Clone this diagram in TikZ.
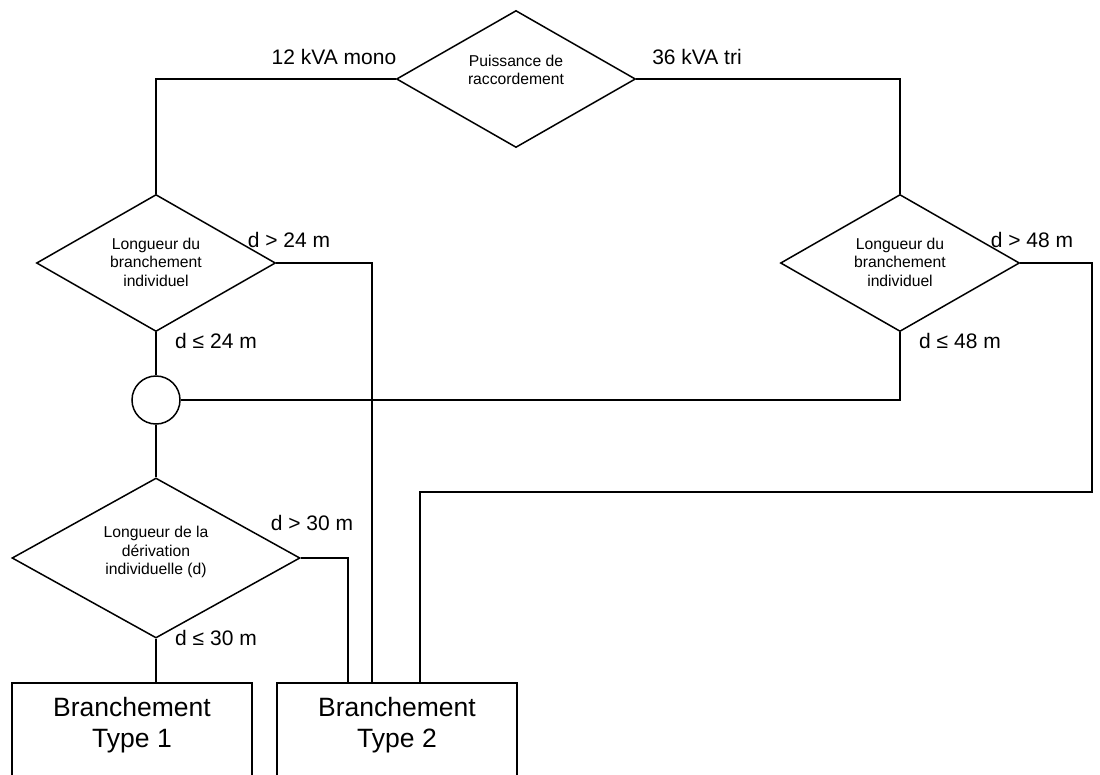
\documentclass[tikz,border=0pt]{standalone}
\usepackage{fontspec}
\setmainfont{Liberation Sans}
\usetikzlibrary{shapes.geometric}
\begin{document}
\begin{tikzpicture}[x=1pt,y=-1pt,line width=1.5pt,
  decision/.style={draw,diamond,inner sep=0pt,minimum width=239pt,minimum height=137pt},
  bigdecision/.style={decision,minimum width=288pt,minimum height=160pt},
  dtext/.style={font=\fontsize{15.7}{18.5}\selectfont,align=center,inner sep=0pt},
  cond/.style={font=\fontsize{21}{25}\selectfont,inner sep=0pt},
  joint/.style={draw,circle,minimum size=48pt,inner sep=0pt},
  outbox/.style={draw,rectangle,minimum width=240pt,minimum height=120pt,inner sep=0pt},
  btext/.style={font=\fontsize{26.5}{31}\selectfont,align=center,inner sep=0pt}]
\useasboundingbox (0,0) rectangle (1100,774);
\clip (0,0) rectangle (1100,774);

% decisions
\node[decision] (d0) at (516,79) {};
\node[dtext] (t0) at (516,70) {Puissance de\\raccordement};
\node[decision] (d1) at (156,263) {};
\node[dtext] (t1) at (156,262) {Longueur du\\branchement\\individuel};
\node[decision] (d2) at (900,263) {};
\node[dtext] (t2) at (900,262) {Longueur du\\branchement\\individuel};
\node[bigdecision] (d3) at (156,558) {};
\node[dtext] (t3) at (156,552) {Longueur de la\\dérivation\\individuelle (d)};

% junction
\node[joint] (c) at (156,400) {};

% result boxes
\node[outbox] (b1) at (132,743) {};
\node[btext] (bt1) at (132,725) {Branchement\\Type 1};
\node[outbox] (b2) at (397,743) {};
\node[btext] (bt2) at (397,725) {Branchement\\Type 2};

% entry points on top of box 2 and the bend of the long return
\coordinate (b2a) at (348,683);
\coordinate (b2b) at (372,683);
\coordinate (b2c) at (420,683);
\coordinate (turn) at (1092,492);

% connectors
\draw (d0.west) -| (d1.north);
\draw (d0.east) -| (d2.north);
\draw (d1.south) -- (c.north);
\draw (c.south) -- (d3.north);
\draw (c.east) -| (d2.south);
\draw (d1.east) -| (b2b);
\draw (d2.east) -| (turn) -| (b2c);
\draw (d3.east) -| (b2a);
\draw (d3.south) -- (d3.south |- b1.north);

% branch labels
\node[cond] (l0) at (334,57) {12 kVA mono};
\node[cond] (l1) at (697,57) {36 kVA tri};
\node[cond] (l2) at (289,240) {d > 24 m};
\node[cond] (l3) at (216,341) {d ≤ 24 m};
\node[cond] (l4) at (1032,240) {d > 48 m};
\node[cond] (l5) at (960,341) {d ≤ 48 m};
\node[cond] (l6) at (312,523) {d > 30 m};
\node[cond] (l7) at (216,638) {d ≤ 30 m};
\end{tikzpicture}
\end{document}
